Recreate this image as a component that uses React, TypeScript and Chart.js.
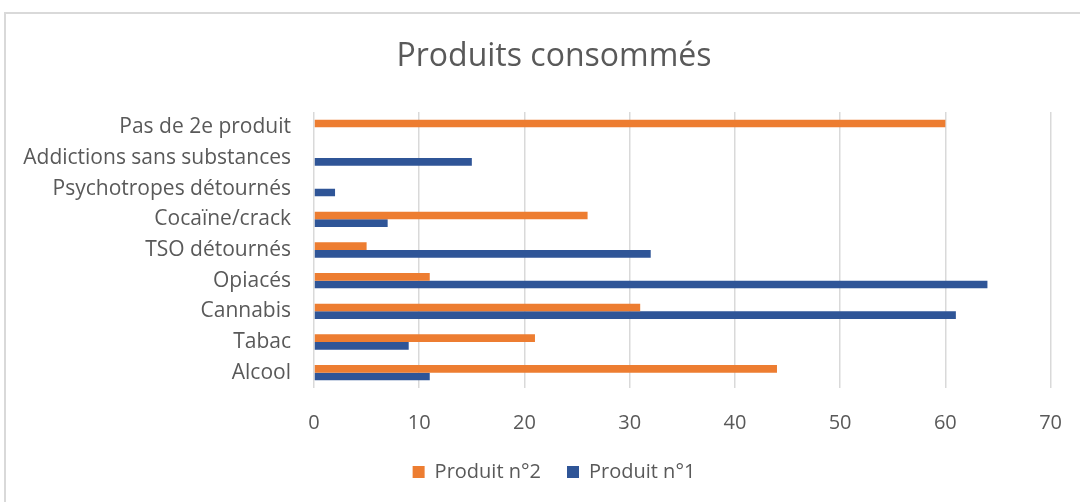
import React, { useEffect, useRef } from "react";
import { Chart, registerables } from "chart.js";

Chart.register(...registerables);

const categories = [
  "Pas de 2e produit",
  "Addictions sans substances",
  "Psychotropes détournés",
  "Cocaïne/crack",
  "TSO détournés",
  "Opiacés",
  "Cannabis",
  "Tabac",
  "Alcool",
];
const produit2 = [60, 0, 0, 26, 5, 11, 31, 21, 44];
const produit1 = [0, 15, 2, 7, 32, 64, 61, 9, 11];
const seriesNames = ["Produit n°2", "Produit n°1"];
const title = "Produits consommés";

const FONT = "'Open Sans', sans-serif";
const TEXT = "#595959";

// Shift title & legend to be centred like in the reference
const shiftPlugin = {
  id: "shiftTitleLegend",
  afterLayout(chart: any) {
    const d = 20;
    const t = chart.titleBlock;
    if (t) {
      t.left += d;
      t.right += d;
    }
    const l = chart.legend;
    if (l) {
      l.left += d;
      l.right += d;
    }
  },
};

export default function App() {
  const ref = useRef<HTMLCanvasElement | null>(null);
  useEffect(() => {
    if (!ref.current) return;
    const chart = new Chart(ref.current, {
      type: "bar",
      data: {
        labels: categories,
        datasets: [
          {
            label: seriesNames[0],
            data: produit2,
            backgroundColor: "#ED7D31",
            borderWidth: 0,
            barPercentage: 1,
            categoryPercentage: 0.5,
          },
          {
            label: seriesNames[1],
            data: produit1,
            backgroundColor: "#2F5597",
            borderWidth: 0,
            barPercentage: 1,
            categoryPercentage: 0.5,
          },
        ],
      },
      plugins: [shiftPlugin],
      options: {
        indexAxis: "y",
        animation: false,
        responsive: false,
        maintainAspectRatio: false,
        layout: { padding: { left: 10, right: 27, top: 0, bottom: 10 } },
        plugins: {
          title: {
            display: true,
            text: title,
            color: TEXT,
            font: { family: FONT, size: 32, weight: "normal" },
            padding: { top: 38, bottom: 35.6 },
          },
          legend: {
            position: "bottom",
            labels: {
              color: TEXT,
              font: { family: FONT, size: 20 },
              boxWidth: 12,
              boxHeight: 12,
              padding: 26,
            },
          },
          tooltip: { enabled: false },
        },
        scales: {
          x: {
            min: 0,
            max: 70,
            ticks: {
              stepSize: 10,
              color: TEXT,
              font: { family: FONT, size: 20 },
              padding: 23,
            },
            grid: { color: "#D9D9D9", lineWidth: 1.5, drawTicks: false },
            border: { display: false },
            afterFit: (s: any) => {
              s.height = 48;
            },
          },
          y: {
            ticks: {
              color: TEXT,
              font: { family: FONT, size: 21 },
              padding: 23,
            },
            grid: { display: false, drawTicks: false },
            border: { display: false },
            afterFit: (s: any) => {
              s.width = 304;
            },
          },
        },
      },
    });
    return () => chart.destroy();
  }, []);

  return (
    <div style={{ position: "fixed", left: 0, top: 0, width: 1085, height: 502, background: "#fff", overflow: "hidden" }}>
      <div
        style={{
          position: "absolute",
          left: 4,
          top: 12,
          width: 1074,
          height: 500,
          borderTop: "2px solid #D9D9D9",
          borderLeft: "2px solid #D9D9D9",
        }}
      />
      <canvas ref={ref} width={1085} height={502} style={{ position: "absolute", left: 0, top: 0 }} />
    </div>
  );
}
